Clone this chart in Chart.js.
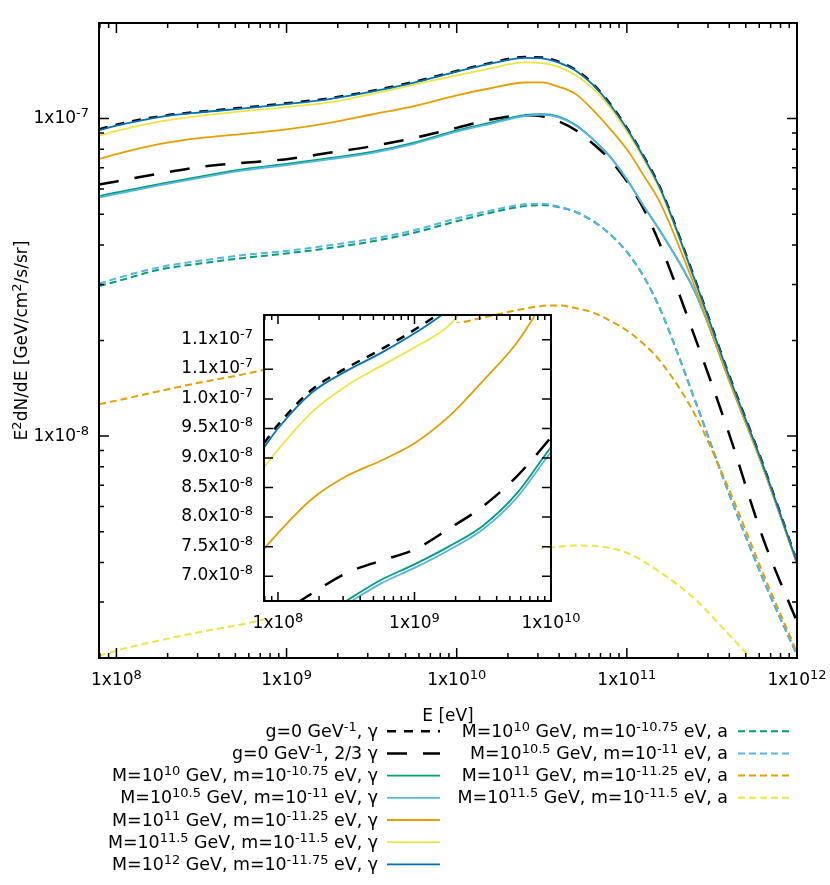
<!DOCTYPE html>
<html>
<head>
<meta charset="utf-8">
<script src="https://cdn.jsdelivr.net/npm/chart.js@4.4.1/dist/chart.umd.min.js"></script>
<style>
  html, body { margin: 0; padding: 0; background: #fff; }
  #wrap { position: relative; width: 830px; height: 885px; }
  #main { position: absolute; left: 0; top: 0; }
  #inset { position: absolute; left: 170px; top: 300px; }
</style>
</head>
<body>
<div id="wrap">
  <canvas id="main" width="830" height="885" style="width:830px;height:885px"></canvas>
  <canvas id="inset" width="440" height="350" style="width:440px;height:350px"></canvas>
</div>
<script>
// energie (eV)
const energies = [7.9e7, 1e8, 1.78e8, 3.16e8, 5.62e8, 1e9, 1.78e9, 3.16e9, 5.62e9, 1e10,
  1.58e10, 2.51e10, 3.16e10, 3.98e10, 5.01e10, 6.31e10, 7.94e10, 1e11, 1.26e11, 1.58e11,
  2.51e11, 3.98e11, 6.31e11, 1e12];

// E^2 dN/dE [GeV/cm2/s/sr]
const g0Gamma = [9.25e-8, 9.56e-8, 1.016e-7, 1.052e-7, 1.083e-7, 1.117e-7, 1.158e-7, 1.222e-7, 1.305e-7, 1.412e-7,
  1.497e-7, 1.562e-7, 1.558e-7, 1.51e-7, 1.424e-7, 1.287e-7, 1.115e-7, 9.35e-8, 7.58e-8, 6.01e-8,
  3.12e-8, 1.56e-8, 8.14e-9, 4.02e-9];
const g0TwoThirds = [6.20e-8, 6.34e-8, 6.71e-8, 7.05e-8, 7.26e-8, 7.45e-8, 7.80e-8, 8.18e-8, 8.69e-8, 9.35e-8,
  9.93e-8, 1.024e-7, 1.017e-7, 9.80e-8, 9.19e-8, 8.34e-8, 7.43e-8, 6.35e-8, 5.17e-8, 3.97e-8,
  2.05e-8, 1.02e-8, 4.77e-9, 2.6e-9];
const gammaM10 = [5.70e-8, 5.85e-8, 6.22e-8, 6.58e-8, 6.93e-8, 7.2e-8, 7.5e-8, 7.85e-8, 8.4e-8, 9.18e-8,
  9.71e-8, 1.025e-7, 1.033e-7, 1.015e-7, 9.55e-8, 8.62e-8, 7.6e-8, 6.43e-8, 5.29e-8, 4.4e-8,
  2.85e-8, 1.51e-8, 8.0e-9, 3.97e-9];
const gammaM105 = [5.64e-8, 5.79e-8, 6.16e-8, 6.52e-8, 6.87e-8, 7.14e-8, 7.44e-8, 7.79e-8, 8.33e-8, 9.1e-8,
  9.63e-8, 1.018e-7, 1.027e-7, 1.009e-7, 9.5e-8, 8.62e-8, 7.6e-8, 6.43e-8, 5.29e-8, 4.4e-8,
  2.85e-8, 1.51e-8, 8.0e-9, 3.97e-9];
const gammaM11 = [7.46e-8, 7.73e-8, 8.31e-8, 8.69e-8, 8.95e-8, 9.25e-8, 9.70e-8, 1.03e-7, 1.095e-7, 1.184e-7,
  1.246e-7, 1.299e-7, 1.300e-7, 1.259e-7, 1.194e-7, 1.065e-7, 9.3e-8, 8.0e-8, 6.6e-8, 5.4e-8,
  2.95e-8, 1.50e-8, 7.95e-9, 3.98e-9];
const gammaM115 = [8.84e-8, 9.14e-8, 9.78e-8, 1.022e-7, 1.055e-7, 1.087e-7, 1.124e-7, 1.195e-7, 1.279e-7, 1.368e-7,
  1.440e-7, 1.504e-7, 1.496e-7, 1.455e-7, 1.37e-7, 1.245e-7, 1.087e-7, 9.1e-8, 7.42e-8, 5.9e-8,
  3.07e-8, 1.54e-8, 8.05e-9, 3.99e-9];
const gammaM12 = [9.18e-8, 9.50e-8, 1.011e-7, 1.047e-7, 1.077e-7, 1.111e-7, 1.152e-7, 1.216e-7, 1.298e-7, 1.405e-7,
  1.489e-7, 1.552e-7, 1.548e-7, 1.50e-7, 1.415e-7, 1.279e-7, 1.109e-7, 9.30e-8, 7.54e-8, 5.98e-8,
  3.10e-8, 1.55e-8, 8.1e-9, 4.0e-9];
const axionM10 = [2.97e-8, 3.07e-8, 3.34e-8, 3.50e-8, 3.64e-8, 3.76e-8, 3.91e-8, 4.10e-8, 4.37e-8, 4.75e-8,
  5.05e-8, 5.30e-8, 5.34e-8, 5.26e-8, 5.08e-8, 4.76e-8, 4.33e-8, 3.80e-8, 3.17e-8, 2.49e-8,
  1.30e-8, 6.6e-9, 3.55e-9, 2.04e-9];
const axionM105 = [3.02e-8, 3.14e-8, 3.40e-8, 3.57e-8, 3.72e-8, 3.83e-8, 3.99e-8, 4.18e-8, 4.45e-8, 4.85e-8,
  5.13e-8, 5.37e-8, 5.39e-8, 5.28e-8, 5.08e-8, 4.76e-8, 4.33e-8, 3.80e-8, 3.17e-8, 2.49e-8,
  1.30e-8, 6.6e-9, 3.55e-9, 2.04e-9];
// parti nascoste dietro l'inserto: null
const axionM11 = [1.26e-8, 1.293e-8, 1.385e-8, 1.478e-8, 1.567e-8, null, null, null, null, null,
  2.39e-8, 2.52e-8, 2.57e-8, 2.58e-8, 2.53e-8, 2.45e-8, 2.31e-8, 2.15e-8, 1.947e-8, 1.716e-8,
  1.17e-8, 6.8e-9, 3.7e-9, 2.08e-9];
const axionM115 = [2.03e-9, 2.11e-9, 2.27e-9, 2.42e-9, 2.56e-9, null, null, null, null, null,
  null, null, 4.43e-9, 4.48e-9, 4.52e-9, 4.51e-9, 4.44e-9, 4.29e-9, 4.02e-9, 3.72e-9,
  3.07e-9, 2.37e-9, 1.82e-9, null];

const seriesLabels = [
  'g=0 GeV^{-1}, γ',
  'g=0 GeV^{-1}, 2/3 γ',
  'M=10^{10} GeV, m=10^{-10.75} eV, γ',
  'M=10^{10.5} GeV, m=10^{-11} eV, γ',
  'M=10^{11} GeV, m=10^{-11.25} eV, γ',
  'M=10^{11.5} GeV, m=10^{-11.5} eV, γ',
  'M=10^{12} GeV, m=10^{-11.75} eV, γ',
  'M=10^{10} GeV, m=10^{-10.75} eV, a',
  'M=10^{10.5} GeV, m=10^{-11} eV, a',
  'M=10^{11} GeV, m=10^{-11.25} eV, a',
  'M=10^{11.5} GeV, m=10^{-11.5} eV, a'
];
const seriesValues = [g0Gamma, g0TwoThirds, gammaM10, gammaM105, gammaM11, gammaM115, gammaM12,
  axionM10, axionM105, axionM11, axionM115];

const xTickValues = [1e8, 1e9, 1e10, 1e11, 1e12];
const xTickLabels = ['1x10^{8}', '1x10^{9}', '1x10^{10}', '1x10^{11}', '1x10^{12}'];
const yTickValues = [1e-7, 1e-8];
const yTickLabels = ['1x10^{-7}', '1x10^{-8}'];
const insetXTickValues = [1e8, 1e9, 1e10];
const insetXTickLabels = ['1x10^{8}', '1x10^{9}', '1x10^{10}'];
const insetYTickValues = [7.0e-8, 7.5e-8, 8.0e-8, 8.5e-8, 9.0e-8, 9.5e-8, 1.0e-7, 1.05e-7, 1.1e-7];
const insetYTickLabels = ['7.0x10^{-8}', '7.5x10^{-8}', '8.0x10^{-8}', '8.5x10^{-8}', '9.0x10^{-8}',
  '9.5x10^{-8}', '1.0x10^{-7}', '1.1x10^{-7}', '1.1x10^{-7}'];

// stili
const GREEN = '#009e73', LBLUE = '#56b4e9', ORANGE = '#e69f00', YELLOW = '#f0e442', BLUE = '#0072b2';
const styles = [
  { color: '#000', dash: [9, 8], width: 2.5 },
  { color: '#000', dash: [20, 16], width: 2.5 },
  { color: GREEN, dash: [], width: 1.8 },
  { color: LBLUE, dash: [], width: 1.8 },
  { color: ORANGE, dash: [], width: 1.8 },
  { color: YELLOW, dash: [], width: 1.8 },
  { color: BLUE, dash: [], width: 1.8 },
  { color: GREEN, dash: [7, 4], width: 2 },
  { color: LBLUE, dash: [7, 4], width: 2 },
  { color: ORANGE, dash: [7, 4], width: 2 },
  { color: YELLOW, dash: [7, 4], width: 2 }
];

const FONT = '17px "DejaVu Sans"';
const LEGEND_FONT = '17.4px "DejaVu Sans"';
const SUP_FONT = '13px "DejaVu Sans"';
const SUP_RISE = 6;
// zona ripulita dall'inserto (coordinate pagina)
const CLEAR_BOX = { left: 264, top: 323, right: 541, bottom: 645 };

function richParts(str) {
  const parts = [];
  const re = /\^\{([^}]*)\}/g;
  let last = 0, m;
  while ((m = re.exec(str))) {
    if (m.index > last) parts.push({ t: str.slice(last, m.index), sup: false });
    parts.push({ t: m[1], sup: true });
    last = re.lastIndex;
  }
  if (last < str.length) parts.push({ t: str.slice(last), sup: false });
  return parts;
}

function drawRich(ctx, str, x, y, align, font) {
  const base = font || FONT;
  const parts = richParts(str);
  let w = 0;
  parts.forEach(p => { ctx.font = p.sup ? SUP_FONT : base; p.w = ctx.measureText(p.t).width; w += p.w; });
  let cx = align === 'right' ? x - w : align === 'center' ? x - w / 2 : x;
  ctx.textAlign = 'left';
  ctx.textBaseline = 'alphabetic';
  ctx.fillStyle = '#000';
  parts.forEach(p => {
    ctx.font = p.sup ? SUP_FONT : base;
    ctx.fillText(p.t, cx, p.sup ? y - SUP_RISE : y);
    cx += p.w;
  });
}

function logTicks(min, max) {
  const out = [];
  for (let n = Math.floor(Math.log10(min)); n <= Math.ceil(Math.log10(max)); n++) {
    for (let k = 1; k < 10; k++) {
      const v = k * Math.pow(10, n);
      if (v >= min * 0.999 && v <= max * 1.001) out.push({ v: v, major: k === 1 });
    }
  }
  return out;
}

function drawFrame(chart, xTicks, yTicks, majLen, minLen) {
  const ctx = chart.ctx, a = chart.chartArea;
  const xs = chart.scales.x, ys = chart.scales.y;
  ctx.save();
  ctx.strokeStyle = '#000';
  ctx.setLineDash([]);
  ctx.lineWidth = 1.5;
  ctx.beginPath();
  xTicks.forEach(t => {
    const p = xs.getPixelForValue(t.v), L = t.major ? majLen : minLen;
    ctx.moveTo(p, a.bottom); ctx.lineTo(p, a.bottom - L);
    ctx.moveTo(p, a.top); ctx.lineTo(p, a.top + L);
  });
  yTicks.forEach(t => {
    const p = ys.getPixelForValue(t.v), L = t.major ? majLen : minLen;
    ctx.moveTo(a.left, p); ctx.lineTo(a.left + L, p);
    ctx.moveTo(a.right, p); ctx.lineTo(a.right - L, p);
  });
  ctx.stroke();
  ctx.lineWidth = 2;
  ctx.strokeRect(a.left, a.top, a.right - a.left, a.bottom - a.top);
  ctx.restore();
}

function makeDatasets(count) {
  return seriesValues.slice(0, count).map((vals, i) => ({
    label: seriesLabels[i],
    data: energies.map((e, j) => ({ x: e, y: vals[j] })),
    borderColor: styles[i].color,
    borderDash: styles[i].dash,
    borderWidth: styles[i].width,
    pointRadius: 0,
    fill: false,
    cubicInterpolationMode: 'monotone',
    spanGaps: true,
    clip: 0,
    order: -i
  }));
}

const mainPlugin = {
  id: 'mainFrame',
  afterDatasetsDraw(chart) {
    const ctx = chart.ctx;
    ctx.save();
    ctx.fillStyle = '#fff';
    ctx.fillRect(CLEAR_BOX.left, CLEAR_BOX.top, CLEAR_BOX.right - CLEAR_BOX.left, CLEAR_BOX.bottom - CLEAR_BOX.top);
    ctx.restore();
  },
  afterDraw(chart) {
    const ctx = chart.ctx, a = chart.chartArea;
    const xs = chart.scales.x, ys = chart.scales.y;
    drawFrame(chart, logTicks(xs.min, xs.max), logTicks(ys.min, ys.max), 10, 5);
    ctx.save();
    xTickValues.forEach((v, i) => drawRich(ctx, xTickLabels[i], xs.getPixelForValue(v), a.bottom + 27, 'center'));
    yTickValues.forEach((v, i) => drawRich(ctx, yTickLabels[i], a.left - 10, ys.getPixelForValue(v) + 4.5, 'right'));
    drawRich(ctx, 'E [eV]', (a.left + a.right) / 2, 721, 'center');
    ctx.save();
    ctx.translate(27, (a.top + a.bottom) / 2);
    ctx.rotate(-Math.PI / 2);
    drawRich(ctx, 'E^{2}dN/dE [GeV/cm^{2}/s/sr]', 0, 0, 'center');
    ctx.restore();
    // legenda a due colonne
    const cols = [{ textRight: 378, s0: 387, s1: 440 }, { textRight: 728, s0: 738, s1: 790 }];
    chart.data.datasets.forEach((ds, i) => {
      const col = i < 7 ? cols[0] : cols[1];
      const row = i < 7 ? i : i - 7;
      const base = 736.7 + row * 22.2;
      drawRich(ctx, ds.label, col.textRight, base, 'right', LEGEND_FONT);
      ctx.beginPath();
      ctx.strokeStyle = styles[i].color;
      ctx.lineWidth = styles[i].width;
      ctx.setLineDash(styles[i].dash);
      ctx.moveTo(col.s0, base - 5.5);
      ctx.lineTo(col.s1, base - 5.5);
      ctx.stroke();
    });
    ctx.restore();
  }
};

const insetPlugin = {
  id: 'insetFrame',
  afterDraw(chart) {
    const ctx = chart.ctx, a = chart.chartArea;
    const xs = chart.scales.x, ys = chart.scales.y;
    drawFrame(chart, logTicks(xs.min, xs.max), insetYTickValues.map(v => ({ v: v, major: true })), 9, 5);
    ctx.save();
    insetXTickValues.forEach((v, i) => drawRich(ctx, insetXTickLabels[i], xs.getPixelForValue(v), a.bottom + 27, 'center'));
    insetYTickValues.forEach((v, i) => drawRich(ctx, insetYTickLabels[i], a.left - 11, ys.getPixelForValue(v) + 4, 'right'));
    ctx.restore();
  }
};

new Chart(document.getElementById('main'), {
  type: 'line',
  data: { datasets: makeDatasets(11) },
  options: {
    responsive: false,
    animation: false,
    devicePixelRatio: 1,
    layout: { padding: { left: 99, top: 23, right: 33, bottom: 227 } },
    scales: {
      x: { type: 'logarithmic', min: 7.9e7, max: 1e12, display: false },
      y: { type: 'logarithmic', min: 2e-9, max: 2e-7, display: false }
    },
    plugins: { legend: { display: false }, tooltip: { enabled: false } }
  },
  plugins: [mainPlugin]
});

new Chart(document.getElementById('inset'), {
  type: 'line',
  data: { datasets: makeDatasets(7) },
  options: {
    responsive: false,
    animation: false,
    devicePixelRatio: 1,
    layout: { padding: { left: 94, top: 15, right: 59, bottom: 49 } },
    scales: {
      x: { type: 'logarithmic', min: 7.9e7, max: 1e10, display: false },
      y: { type: 'linear', min: 6.58e-8, max: 1.142e-7, display: false }
    },
    plugins: { legend: { display: false }, tooltip: { enabled: false } }
  },
  plugins: [insetPlugin]
});
</script>
</body>
</html>
